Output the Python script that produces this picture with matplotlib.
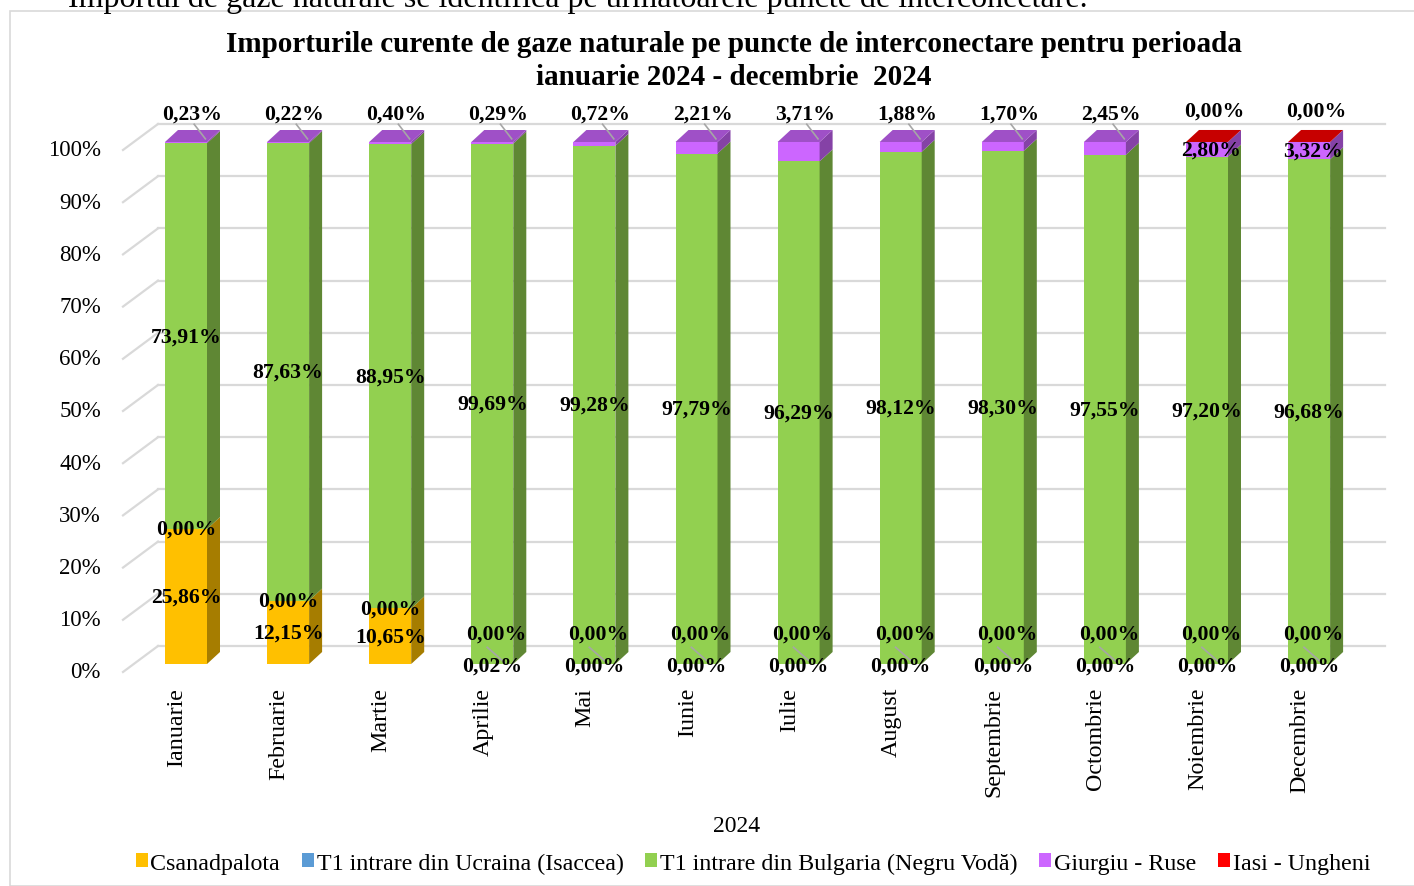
import matplotlib.pyplot as plt
from matplotlib.patches import Polygon, Rectangle, Patch
import matplotlib.colors as mcolors

luni = ["Ianuarie", "Februarie", "Martie", "Aprilie", "Mai", "Iunie", "Iulie",
        "August", "Septembrie", "Octombrie", "Noiembrie", "Decembrie"]

csanadpalota = [25.86, 12.15, 10.65, 0.02, 0.00, 0.00, 0.00, 0.00, 0.00, 0.00, 0.00, 0.00]
ucraina = [0.00] * 12
bulgaria = [73.91, 87.63, 88.95, 99.69, 99.28, 97.79, 96.29, 98.12, 98.30, 97.55, 97.20, 96.68]
giurgiu = [0.23, 0.22, 0.40, 0.29, 0.72, 2.21, 3.71, 1.88, 1.70, 2.45, 2.80, 3.32]
iasi = [0, 0, 0, 0, 0, 0, 0, 0, 0, 0, 0.004, 0.004]

serii = ["Csanadpalota", "T1 intrare din Ucraina (Isaccea)", "T1 intrare din Bulgaria (Negru Vodă)",
         "Giurgiu - Ruse", "Iasi - Ungheni"]
culori = ["#FFC000", "#5B9BD5", "#92D050", "#CC66FF", "#FF0000"]
valori = [csanadpalota, ucraina, bulgaria, giurgiu, iasi]

plt.rcParams['font.family'] = ['Liberation Serif', 'DejaVu Serif']

def umbra(c, f):
    r, g, b = mcolors.to_rgb(c)
    return (r * f, g * f, b * f)

def fmt(v):
    return f"{v:.2f}%".replace('.', ',')

fig = plt.figure(figsize=(14.14, 8.87), dpi=100)

# chenarul graficului si textul din document taiat sus
fig.patches.append(Rectangle((10 / 1414, 0), 1.0, 1 - 12 / 887, transform=fig.transFigure,
                             fill=False, edgecolor="#D9D9D9", linewidth=1.2))
fig.text(68 / 1414, 1 - 7 / 887, "Importul de gaze naturale se identifica pe urmatoarele puncte de interconectare.",
         fontsize=23, va='baseline', ha='left')

# axa: x in unitati de categorie, y in procente (planul frontal al barelor)
px_x = 102.1
px_y = 5.22
ax = fig.add_axes([100 / 1414, 1 - 700 / 887, 1300 / 1414, 580 / 887])
ax.set_xlim((100 - 186) / px_x, (1400 - 186) / px_x)
ax.set_ylim((665 - 700) / px_y, (665 - 120) / px_y)
ax.axis('off')

w = 42 / px_x
dx = 13 / px_x
dy = 12 / px_y

# grila pe peretele din spate
x_fata = (123 - 186) / px_x
x_spate = (158 - 186) / px_x
x_capat = (1385 - 186) / px_x
for v in range(0, 101, 10):
    ax.plot([x_spate, x_capat], [v + 3.45, v + 3.45], color="#D9D9D9", lw=1.6, zorder=1)
    ax.plot([x_fata, x_spate], [v - 1.53, v + 3.45], color="#D9D9D9", lw=1.6, zorder=1)
    ax.text((101 - 186) / px_x, v - 1.53, f"{v}%", ha='right', va='center', fontsize=16.5)

# bare 3D
for i in range(len(luni)):
    jos = 0.0
    top_col = None
    for vals, c in zip(valori, culori):
        v = vals[i]
        if v > 0:
            ax.bar(i, v, width=w, bottom=jos, color=c, zorder=3, linewidth=0)
            ax.add_patch(Polygon([(i + w / 2, jos), (i + w / 2 + dx, jos + dy),
                                  (i + w / 2 + dx, jos + v + dy), (i + w / 2, jos + v)],
                                 closed=True, facecolor=umbra(c, 0.65), edgecolor='none', zorder=3))
            top_col = c
        jos += v
    ax.add_patch(Polygon([(i - w / 2, jos), (i + w / 2, jos), (i + w / 2 + dx, jos + dy),
                          (i - w / 2 + dx, jos + dy)],
                         closed=True, facecolor=umbra(top_col, 0.78), edgecolor='none', zorder=3))

# etichete de date
lbl = dict(fontsize=15.7, fontweight='bold', ha='center', va='center', zorder=6)
for i in range(len(luni)):
    c0 = csanadpalota[i]
    # Csanadpalota
    if c0 > 1:
        ax.text(i, c0 / 2, fmt(c0), **lbl)
    else:
        ax.text(i, -0.3, fmt(c0), **lbl)
    # Ucraina
    if c0 > 1:
        ax.text(i, c0, fmt(ucraina[i]), **lbl)
    else:
        ax.text(i + 0.04, 5.8, fmt(ucraina[i]), **lbl)
        ax.plot([i - 0.05, i + 0.12], [3.2, 0.3], color="#A6A6A6", lw=1.2, zorder=5)
    # Bulgaria
    ax.text(i, c0 + bulgaria[i] / 2, fmt(bulgaria[i]), **lbl)
    # Giurgiu si Iasi
    if iasi[i] > 0:
        ax.text(i + 0.04, c0 + bulgaria[i] + giurgiu[i] / 2, fmt(giurgiu[i]), **lbl)
        ax.text(i + 0.07, 106.0, fmt(iasi[i]), **lbl)
    else:
        ax.text(i + 0.06, 105.5, fmt(giurgiu[i]), **lbl)
        ax.plot([i + 0.08, i + 0.19], [103.4, 100.6], color="#A6A6A6", lw=1.2, zorder=5)

# etichete luni
for i, m in enumerate(luni):
    ax.text(i - 0.09, -4.4, m, rotation=90, ha='center', va='top', fontsize=17.3)

fig.text(737 / 1414, 1 - 827 / 887, "2024", ha='center', va='center', fontsize=17)

fig.text(734 / 1414, 1 - 61 / 887,
         "Importurile curente de gaze naturale pe puncte de interconectare pentru perioada\nianuarie 2024 - decembrie  2024",
         ha='center', va='center', fontsize=21, fontweight='bold', linespacing=1.25)

handles = [Patch(facecolor=c, edgecolor='none') for c in culori]
fig.legend(handles, serii, loc='center', bbox_to_anchor=(753 / 1414, 1 - 864 / 887), ncol=5,
           frameon=False, fontsize=17.3, handlelength=0.5, handleheight=0.5,
           handletextpad=0.12, columnspacing=0.9, borderpad=0)

fig.savefig("out.png", dpi=100)
